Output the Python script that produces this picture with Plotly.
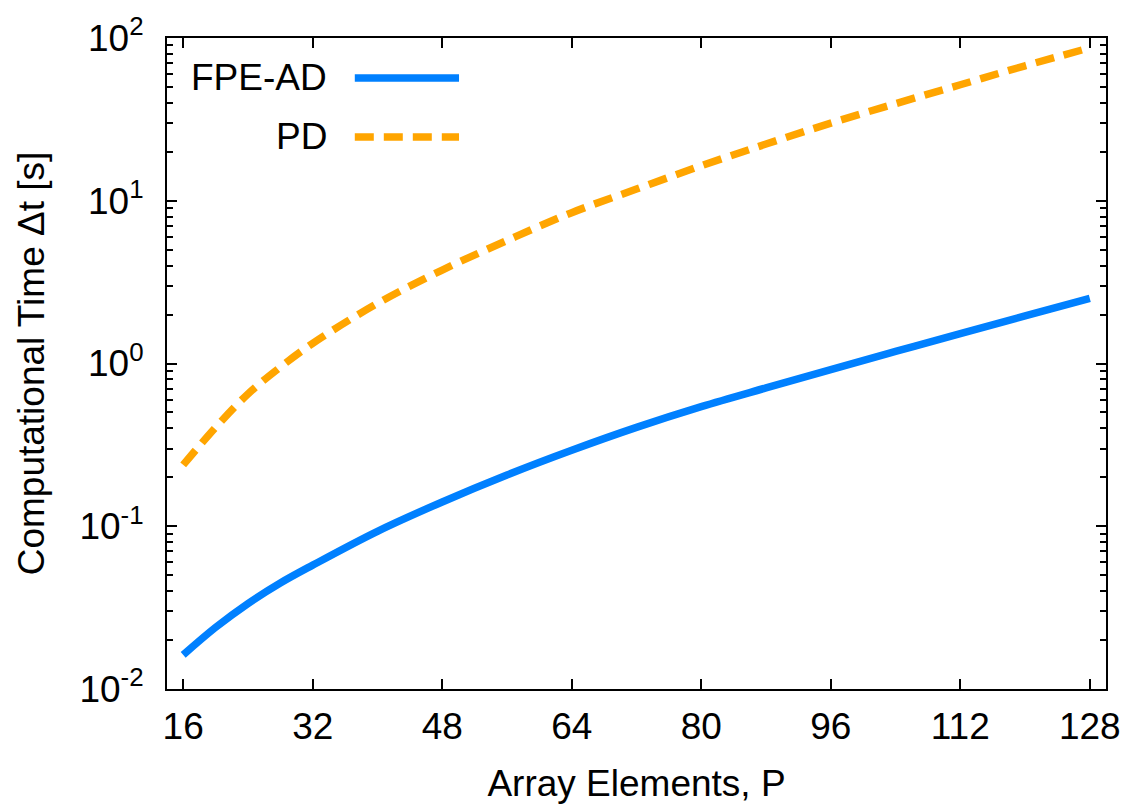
import plotly.graph_objects as go

# ---- data ----
P = [16, 20, 24, 28, 32, 40, 48, 56, 64, 72, 80, 88, 96, 104, 112, 120, 128]
fpe_ad = [0.0162, 0.0239, 0.0335, 0.0448, 0.0577, 0.0931, 0.141, 0.2065, 0.293,
          0.405, 0.543, 0.708, 0.918, 1.186, 1.528, 1.959, 2.512]
pd_time = [0.238, 0.405, 0.65, 0.95, 1.33, 2.34, 3.75, 5.70, 8.45, 11.8, 16.4,
           22.3, 30.0, 39.5, 51.6, 67.5, 87.0]

x_ticks = [16, 32, 48, 64, 80, 96, 112, 128]
y_tickvals = [0.01, 0.1, 1, 10, 100]
y_ticktext = ["10<sup>-2</sup>", "10<sup>-1</sup>", "10<sup>0</sup>",
              "10<sup>1</sup>", "10<sup>2</sup>"]
y_minor = [m * 10 ** e for e in range(-2, 2) for m in range(2, 10)]

series_names = ["FPE-AD", "PD"]
BLUE = "#0080ff"
ORANGE = "#ffa500"
FONT = "Liberation Sans, Arial, sans-serif"
FS = 37
DASH = "19px,10px"

fig = go.Figure()
fig.add_trace(go.Scatter(x=P, y=fpe_ad, mode="lines", name=series_names[0],
                         line=dict(color=BLUE, width=7.5, shape="spline", smoothing=1.0),
                         showlegend=False))
fig.add_trace(go.Scatter(x=P, y=pd_time, mode="lines", name=series_names[1],
                         line=dict(color=ORANGE, width=7.5, dash=DASH, shape="spline",
                                   smoothing=1.0),
                         showlegend=False))

# legend drawn gnuplot-style: text on the left, sample on the right
leg_rows = [(series_names[0], BLUE, "solid", 0.9387),
            (series_names[1], ORANGE, DASH, 0.8481)]
for name, col, dash, yy in leg_rows:
    fig.add_annotation(x=0.173, y=yy, xref="paper", yref="paper", text=name,
                       showarrow=False, xanchor="right", yanchor="middle",
                       font=dict(family=FONT, size=FS, color="black"))
    fig.add_shape(type="line", xref="paper", yref="paper",
                  x0=0.2, x1=0.311, y0=yy, y1=yy,
                  line=dict(color=col, width=7.5, dash=dash))

axis_common = dict(showgrid=False, zeroline=False, showline=True, linecolor="black",
                   linewidth=2, mirror="ticks", ticks="inside", tickcolor="black",
                   tickwidth=1.5, ticklen=10,
                   tickfont=dict(family=FONT, size=FS, color="black"))

fig.update_xaxes(range=[14, 130], tickmode="array", tickvals=x_ticks,
                 ticklabelstandoff=4,
                 title=dict(text="Array Elements, P", standoff=24,
                            font=dict(family=FONT, size=FS, color="black")),
                 **axis_common)
fig.update_yaxes(type="log", range=[-2, 2], tickmode="array",
                 tickvals=y_tickvals, ticktext=y_ticktext,
                 ticklabelstandoff=14,
                 minor=dict(tickmode="array", tickvals=y_minor, ticks="inside",
                            ticklen=6, tickwidth=1.5, tickcolor="black", showgrid=False),
                 title=dict(text="Computational Time \u0394t [s]", standoff=23,
                            font=dict(family=FONT, size=FS, color="black")),
                 **axis_common)

# page body adds an 8px offset, so margins are reduced accordingly
fig.update_layout(width=1136, height=812,
                  margin=dict(l=159, r=38, t=30, b=131, autoexpand=False),
                  plot_bgcolor="white", paper_bgcolor="white",
                  font=dict(family=FONT, size=FS, color="black"))

fig.write_html("out.html")
